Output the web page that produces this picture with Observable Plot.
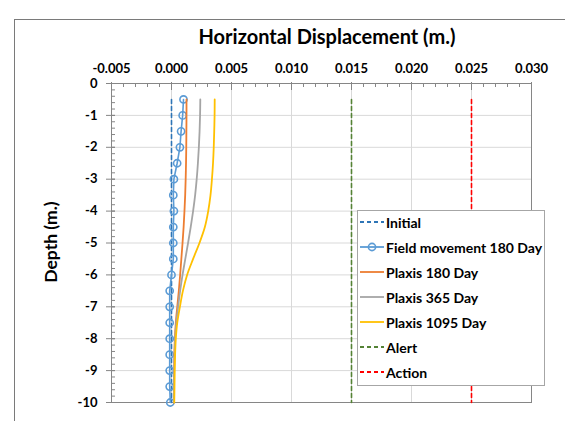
<!DOCTYPE html>
<html>
<head>
<meta charset="utf-8">
<script src="https://cdn.jsdelivr.net/npm/d3@7"></script>
<script src="https://cdn.jsdelivr.net/npm/@observablehq/plot@0.6"></script>
<style>
  html, body { margin: 0; padding: 0; background: #fff; }
  #wrap { position: relative; width: 565px; height: 421px; overflow: hidden; font-family: Lato, "Open Sans", sans-serif; }
  #outer { position: absolute; left: 14px; top: 19px; width: 700px; height: 600px; border-left: 1px solid #7a7a7a; border-top: 1px solid #7a7a7a; box-sizing: border-box; }
  #title { position: absolute; left: 0; width: 654px; top: 24px; text-align: center; font-weight: 700; font-size: 20px; color: #000; }
  #ylabel { position: absolute; left: 50px; top: 242px; transform: translate(-50%, -50%) rotate(-90deg); font-weight: 700; font-size: 17.5px; white-space: nowrap; color: #000; }
  #legend { position: absolute; left: 357px; top: 210px; width: 188px; height: 176px; box-sizing: border-box; border: 1px solid #a6a6a6; background: #fff; }
  .item { position: absolute; left: 2px; height: 20px; display: flex; align-items: center; font-weight: 700; font-size: 14px; color: #000; white-space: nowrap; }
  .item svg { margin-right: 2px; }
  #chart { position: absolute; left: 0; top: 0; }
</style>
</head>
<body>
<div id="wrap">
  <div id="outer"></div>
  <div id="chart"></div>
  <div id="title">Horizontal Displacement (m.)</div>
  <div id="ylabel">Depth (m.)</div>
  <div id="legend"></div>
</div>
<script>
// ---- data ----
const depths = [-0.5, -1, -1.5, -2, -2.5, -3, -3.5, -4, -4.5, -5, -5.5, -6, -6.5, -7, -7.5, -8, -8.5, -9, -9.5, -10];
const initial = [0, 0, 0, 0, 0, 0, 0, 0, 0, 0, 0, 0, 0, 0, 0, 0, 0, 0, 0, 0];
const field180 = [0.0010, 0.00093, 0.0008, 0.0007, 0.00047, 0.0002, 0.00015, 0.0002, 0.00015, 0.00015, 0.00015, 0.0, -0.00015, -0.00015, -0.00015, -0.00015, -0.00015, -0.00015, -0.00015, -0.0001];
const plaxis180 = [0.00125, 0.00125, 0.00124, 0.00123, 0.00121, 0.00118, 0.00114, 0.00108, 0.00101, 0.00092, 0.00082, 0.00072, 0.00061, 0.00048, 0.00036, 0.00028, 0.00024, 0.00022, 0.0002, 0.0002];
const plaxis365 = [0.0024, 0.00238, 0.00234, 0.00228, 0.0022, 0.0021, 0.00197, 0.0018, 0.0016, 0.00138, 0.00115, 0.00092, 0.00072, 0.00055, 0.0004, 0.0003, 0.00025, 0.00022, 0.0002, 0.0002];
const plaxis1095 = [0.0036, 0.00359, 0.00356, 0.00352, 0.00346, 0.00337, 0.00325, 0.00306, 0.00278, 0.00233, 0.0018, 0.0013, 0.00095, 0.0007, 0.00048, 0.00036, 0.0003, 0.00027, 0.00025, 0.00023];
const alert = [0.015, 0.015];
const action = [0.025, 0.025];
const limitDepths = [-0.5, -10];

const seriesNames = ["Initial", "Field movement 180 Day", "Plaxis 180 Day", "Plaxis 365 Day", "Plaxis 1095 Day", "Alert", "Action"];
const xTicks = [-0.005, 0, 0.005, 0.01, 0.015, 0.02, 0.025, 0.03];
const xMinor = d3.range(-5, 31).map(i => i / 1000);
const yTicks = [0, -1, -2, -3, -4, -5, -6, -7, -8, -9, -10];
const yMinor = d3.range(0, 51).map(i => -i / 5);

// ---- styles ----
const colors = {
  "Initial": "#2E75B6",
  "Field movement 180 Day": "#5B9BD5",
  "Plaxis 180 Day": "#ED7D31",
  "Plaxis 365 Day": "#A5A5A5",
  "Plaxis 1095 Day": "#FFC000",
  "Alert": "#548235",
  "Action": "#FF0000"
};

const toRows = (xs, ys) => xs.map((x, i) => ({x, y: ys[i]}));
const axisColor = "#868686";
const font = "Lato, 'Open Sans', sans-serif";

const chart = Plot.plot({
  width: 565,
  height: 421,
  marginLeft: 111,
  marginRight: 34,
  marginTop: 83,
  marginBottom: 19,
  style: {fontFamily: font, background: "transparent", overflow: "visible"},
  x: {domain: [-0.005, 0.03], label: null},
  y: {domain: [-10, 0], label: null},
  marks: [
    Plot.gridX({ticks: xTicks, stroke: "#d9d9d9", strokeOpacity: 1}),
    Plot.gridY({ticks: yTicks, stroke: "#d9d9d9", strokeOpacity: 1}),
    Plot.frame({stroke: axisColor}),
    // top axis: minor ticks, major ticks, labels
    Plot.axisX({anchor: "top", ticks: xMinor, tickSize: -3, tickFormat: () => "", stroke: axisColor, label: null}),
    Plot.axisX({anchor: "top", ticks: xTicks, tickSize: -6, tickFormat: () => "", stroke: axisColor, label: null}),
    Plot.axisX({anchor: "top", ticks: xTicks, tickSize: 2, tickFormat: () => "", stroke: axisColor, label: null}),
    Plot.axisX({anchor: "top", ticks: xTicks, tickSize: 0, tickPadding: 11, tickFormat: d => d.toFixed(3), fontSize: 13, fontWeight: 700, fill: "#000", label: null}),
    // left axis
    Plot.axisY({anchor: "left", ticks: yMinor, tickSize: -4, tickFormat: () => "", stroke: axisColor, label: null}),
    Plot.axisY({anchor: "left", ticks: yTicks, tickSize: 5, tickFormat: () => "", stroke: axisColor, label: null}),
    Plot.axisY({anchor: "left", ticks: yTicks, tickSize: -4, tickFormat: () => "", stroke: axisColor, label: null}),
    Plot.axisY({anchor: "left", ticks: yTicks, tickSize: 0, tickPadding: 14, tickFormat: d => String(d), fontSize: 13, fontWeight: 700, fill: "#000", label: null}),
    // series
    Plot.line(toRows(initial, depths), {x: "x", y: "y", stroke: colors["Initial"], strokeWidth: 1.6, strokeDasharray: "4,3"}),
    Plot.line(toRows(field180, depths), {x: "x", y: "y", stroke: colors["Field movement 180 Day"], strokeWidth: 1.6}),
    Plot.dot(toRows(field180, depths), {x: "x", y: "y", r: 3.6, stroke: colors["Field movement 180 Day"], strokeWidth: 1.6, fill: "none"}),
    Plot.line(toRows(plaxis180, depths), {x: "x", y: "y", stroke: colors["Plaxis 180 Day"], strokeWidth: 1.8, curve: "catmull-rom"}),
    Plot.line(toRows(plaxis365, depths), {x: "x", y: "y", stroke: colors["Plaxis 365 Day"], strokeWidth: 1.8, curve: "catmull-rom"}),
    Plot.line(toRows(plaxis1095, depths), {x: "x", y: "y", stroke: colors["Plaxis 1095 Day"], strokeWidth: 1.8, curve: "catmull-rom"}),
    Plot.line(toRows(alert, limitDepths), {x: "x", y: "y", stroke: colors["Alert"], strokeWidth: 1.6, strokeDasharray: "4,3"}),
    Plot.line(toRows(action, limitDepths), {x: "x", y: "y", stroke: colors["Action"], strokeWidth: 1.6, strokeDasharray: "4,3"})
  ]
});
document.getElementById("chart").appendChild(chart);

// ---- legend ----
const legend = document.getElementById("legend");
const dashed = new Set(["Initial", "Alert", "Action"]);
seriesNames.forEach((name, i) => {
  const item = document.createElement("div");
  item.className = "item";
  item.style.top = (1 + i * 25) + "px";
  const c = colors[name];
  let sw = `<svg width="24" height="12"><line x1="0" x2="24" y1="6" y2="6" stroke="${c}" stroke-width="1.8"${dashed.has(name) ? ' stroke-dasharray="4,3"' : ''}/>`;
  if (name.startsWith("Field")) sw += `<circle cx="12" cy="6" r="3.6" fill="none" stroke="${c}" stroke-width="1.6"/>`;
  sw += `</svg>`;
  item.innerHTML = sw + `<span>${name}</span>`;
  legend.appendChild(item);
});
</script>
</body>
</html>
